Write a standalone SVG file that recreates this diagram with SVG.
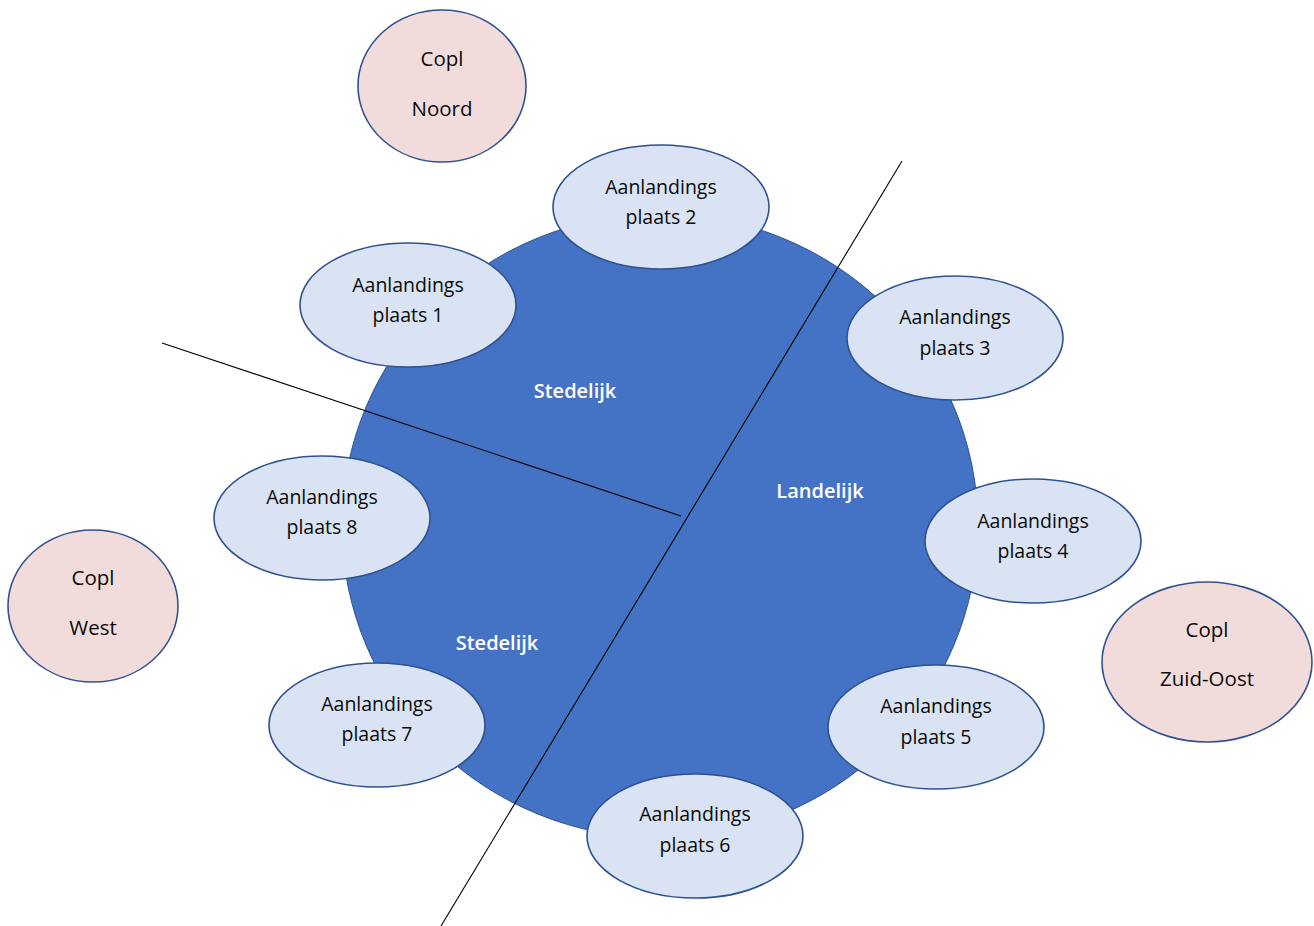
<svg xmlns="http://www.w3.org/2000/svg" width="1314" height="926" viewBox="0 0 1314 926">
<style>
.big{fill:#4472C4;stroke:#2F528F;stroke-width:1}
.site{fill:#DAE3F3;stroke:#2F528F;stroke-width:1.6}
.copl{fill:#F2DCDB;stroke:#2F528F;stroke-width:1.6}
.t{font-family:"Open Sans","Liberation Sans",sans-serif;font-size:19.5px;fill:#0a0a0a;text-anchor:middle}
.tc{font-family:"Open Sans","Liberation Sans",sans-serif;font-size:20.5px;fill:#0a0a0a;text-anchor:middle}
.tw{font-family:"Open Sans","Liberation Sans",sans-serif;font-size:20px;font-weight:600;fill:#fff;text-anchor:middle}
.ln{stroke:#000;stroke-width:1.1;fill:none}
</style>
<rect width="1314" height="926" fill="#fff"/>
<g id="region">
<ellipse class="big" cx="660" cy="526" rx="318" ry="312"/>
<text class="tw" x="575" y="398">Stedelijk</text>
<text class="tw" x="820" y="498">Landelijk</text>
<text class="tw" x="497" y="650">Stedelijk</text>
</g>
<g id="connectors">
<line class="ln" x1="902" y1="161" x2="441" y2="926"/>
<line class="ln" x1="162" y1="343" x2="681" y2="516"/>
</g>
<g id="plaats1"><ellipse class="site" cx="408" cy="305" rx="108" ry="62"/><text class="t" x="408" y="292">Aanlandings</text><text class="t" x="408" y="322">plaats 1</text></g>
<g id="plaats2"><ellipse class="site" cx="661" cy="207" rx="108" ry="62"/><text class="t" x="661" y="194">Aanlandings</text><text class="t" x="661" y="224">plaats 2</text></g>
<g id="plaats3"><ellipse class="site" cx="955" cy="338" rx="108" ry="62"/><text class="t" x="955" y="324">Aanlandings</text><text class="t" x="955" y="355">plaats 3</text></g>
<g id="plaats4"><ellipse class="site" cx="1033" cy="541" rx="108" ry="62"/><text class="t" x="1033" y="528">Aanlandings</text><text class="t" x="1033" y="558">plaats 4</text></g>
<g id="plaats5"><ellipse class="site" cx="936" cy="727" rx="108" ry="62"/><text class="t" x="936" y="713">Aanlandings</text><text class="t" x="936" y="744">plaats 5</text></g>
<g id="plaats6"><ellipse class="site" cx="695" cy="836" rx="108" ry="62"/><text class="t" x="695" y="821">Aanlandings</text><text class="t" x="695" y="852">plaats 6</text></g>
<g id="plaats7"><ellipse class="site" cx="377" cy="725" rx="108" ry="62"/><text class="t" x="377" y="711">Aanlandings</text><text class="t" x="377" y="741">plaats 7</text></g>
<g id="plaats8"><ellipse class="site" cx="322" cy="518" rx="108" ry="62"/><text class="t" x="322" y="504">Aanlandings</text><text class="t" x="322" y="534">plaats 8</text></g>
<g id="copl-noord"><ellipse class="copl" cx="442" cy="86" rx="84" ry="76"/><text class="tc" x="442" y="66">Copl</text><text class="tc" x="442" y="116">Noord</text></g>
<g id="copl-west"><ellipse class="copl" cx="93" cy="606" rx="85" ry="76"/><text class="tc" x="93" y="585">Copl</text><text class="tc" x="93" y="635">West</text></g>
<g id="copl-zuid-oost"><ellipse class="copl" cx="1207" cy="662" rx="105" ry="80"/><text class="tc" x="1207" y="637">Copl</text><text class="tc" x="1207" y="686">Zuid-Oost</text></g>
</svg>
